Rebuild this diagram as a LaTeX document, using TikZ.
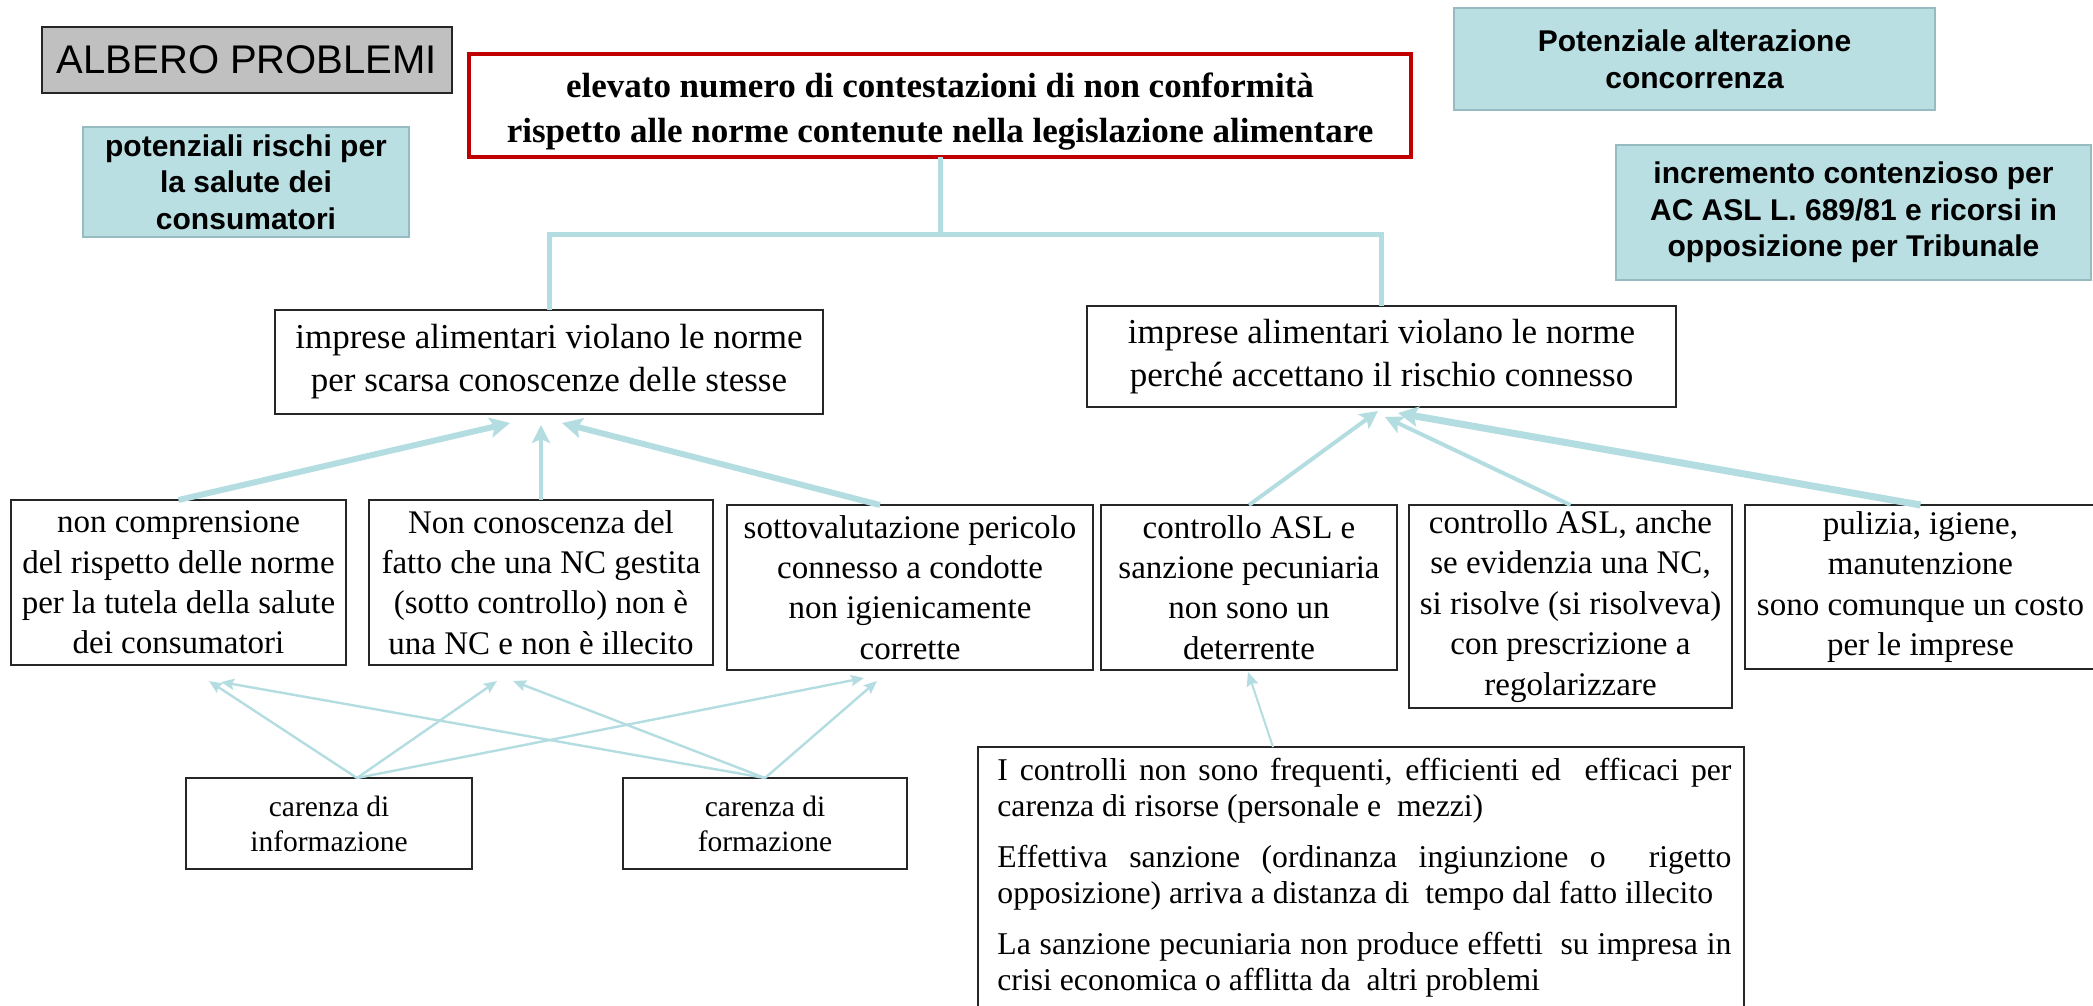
\documentclass[tikz,border=0pt]{standalone}
\usepackage{fontspec}
\setmainfont{Liberation Serif}
\setsansfont{Liberation Sans}
\usetikzlibrary{arrows.meta,calc}
\definecolor{tealln}{RGB}{180,221,225}
\definecolor{tealfill}{RGB}{185,223,227}
\definecolor{tealedge}{RGB}{150,188,193}
\definecolor{redb}{RGB}{192,0,0}
\definecolor{grayfill}{RGB}{192,192,192}
\newcommand\fs[2]{\fontsize{#1}{#2}\selectfont}
\newcommand\bx[7]{\node[#6, minimum width={(#4-#2)*0.5pt}, minimum height={(#5-#3)*0.5pt}] (#1) at ({(#2+#4)/2},{(#3+#5)/2}) {#7};}
\begin{document}
\begin{tikzpicture}[x=0.5pt,y=-0.5pt,
  base/.style={inner sep=0pt, outer sep=0pt, align=center, line width=0.75pt},
  albstyle/.style={base, draw=black!85, fill=grayfill, font=\sffamily\fs{20}{24}},
  tbox/.style={base, draw=tealedge, line width=0.6pt, fill=tealfill, font=\sffamily\bfseries\fs{15}{18.3}},
  redbox/.style={base, draw=redb, line width=2pt, fill=white, font=\bfseries\fs{17.5}{22.5}},
  midbox/.style={base, draw=black!85, fill=white, font=\fs{17.5}{21.5}},
  rowbox/.style={base, draw=black!85, fill=white, font=\fs{16.5}{20.2}},
  lowbox/.style={base, draw=black!85, fill=white, font=\fs{14.75}{17.5}},
  plainbox/.style={base, draw=black!85, fill=white},
  bigtext/.style={inner sep=0pt, text width=367pt, align=justify, font=\fs{15.85}{17.75}},
  conn/.style={draw=tealln, line width=2.5pt},
  thk/.style={draw=tealln, line width=3pt, -{Stealth[length=10pt,width=10pt,inset=2pt]}},
  med/.style={draw=tealln, line width=2pt, -{Stealth[length=9pt,width=9pt,inset=2pt]}},
  thn/.style={draw=tealln, line width=1.2pt, -{Stealth[length=6.5pt,width=5.5pt,inset=1pt]}},
  thnb/.style={draw=tealln, line width=1pt, -{Stealth[length=7pt,width=6pt,inset=1pt]}}
]
\useasboundingbox (0,0) rectangle (2093,1006);
\clip (0,0) rectangle (2093,1006);
\fill[white] (0,0) rectangle (2093,1006);

% top row
\bx{alb}{42}{27}{452}{93}{albstyle}{ALBERO PROBLEMI}
\bx{pot}{83}{127}{409}{237}{tbox}{potenziali rischi per\\la salute dei\\consumatori}
\bx{title}{469}{54}{1411}{157}{redbox}{\raisebox{-3pt}[\height][\depth]{\parbox{470pt}{\centering elevato numero di contestazioni di non conformità\\rispetto alle norme contenute nella legislazione alimentare}}}
\bx{pal}{1454}{8}{1935}{110}{tbox}{Potenziale alterazione\\concorrenza}
\bx{inc}{1616}{145}{2091}{280}{tbox}{incremento contenzioso per\\AC ASL L. 689/81 e ricorsi in\\opposizione per Tribunale}

% middle
\bx{mL}{275}{310}{823}{414}{midbox}{imprese alimentari violano le norme\\per scarsa conoscenze delle stesse}
\bx{mR}{1087}{306}{1676}{407}{midbox}{imprese alimentari violano le norme\\perché accettano il rischio connesso}

% row 3
\bx{cA}{11}{500}{346}{665}{rowbox}{non comprensione\\del rispetto delle norme\\per la tutela della salute\\dei consumatori}
\bx{cB}{369}{500}{713}{665}{rowbox}{Non conoscenza del\\fatto che una NC gestita\\(sotto controllo) non è\\una NC e non è illecito}
\bx{cC}{727}{505}{1093}{670}{rowbox}{sottovalutazione pericolo\\connesso a condotte\\non igienicamente\hspace*{12pt}\\corrette}
\bx{cD}{1101}{505}{1397}{670}{rowbox}{controllo ASL e\\sanzione pecuniaria\\non sono un\\deterrente}
\bx{cE}{1409}{505}{1732}{708}{rowbox}{controllo ASL, anche\\se evidenzia una NC,\\si risolve (si risolveva)\\con prescrizione a\\regolarizzare}
\bx{cF}{1745}{505}{2096}{669}{rowbox}{pulizia, igiene,\\manutenzione\\sono comunque un costo\\per le imprese}

% bottom
\bx{inf}{186}{778}{472}{869}{lowbox}{carenza di\\informazione}
\bx{form}{623}{778}{907}{869}{lowbox}{carenza di\\formazione}
\bx{big}{978}{747}{1744}{1040}{plainbox}{}
\node[bigtext, anchor=north west] (bigt) at (997,758) {I controlli non sono frequenti, efficienti ed~ efficaci per\linebreak carenza di risorse (personale e~ mezzi)\par\vspace{8pt}
Effettiva sanzione (ordinanza ingiunzione o~ rigetto\linebreak opposizione) arriva a distanza di~ tempo dal fatto illecito\par\vspace{8pt}
La sanzione pecuniaria non produce effetti~ su impresa in\linebreak crisi economica o afflitta da~ altri problemi};

% tree connector
\coordinate (jL) at (549,234);
\draw[conn] (title.south) -- (title.south |- jL);
\draw[conn, line join=miter] (mL.north) -- (mL.north |- jL) -- (mR.north |- jL) -- (mR.north);

% arrows to left middle box
\coordinate (tA) at (510,423);
\coordinate (tB) at (541,425);
\coordinate (tC) at (562,423);
\draw[thk] (cA.north) -- (tA);
\draw[med] (cB.north) -- (tB);
\draw[thk] ($(cC.north)+(-30,0)$) -- (tC);

% arrows to right middle box
\coordinate (tD) at (1378,411);
\coordinate (tE) at (1385,417);
\coordinate (tF) at (1398,413);
\draw[med] (cD.north) -- (tD);
\draw[med] (cE.north) -- (tE);
\draw[thk, line width=3.5pt] (cF.north) -- (tF);

% thin arrows from bottom boxes
\coordinate (sI) at ($(inf.north)+(28,0)$);
\coordinate (iA) at (209,681);
\coordinate (iB) at (497,681);
\coordinate (iC) at (864,678);
\coordinate (fA) at (221,682);
\coordinate (fB) at (513,681);
\coordinate (fC) at (877,681);
\draw[thn] (sI) -- (iA);
\draw[thn] (sI) -- (iB);
\draw[thn] (sI) -- (iC);
\draw[thn] (form.north) -- (fA);
\draw[thn] (form.north) -- (fB);
\draw[thn] (form.north) -- (fC);

% arrow from big box to D
\coordinate (tDb) at (1248,672);
\draw[thnb] ($(big.north)+(-88,0)$) -- (tDb);
\end{tikzpicture}
\end{document}
